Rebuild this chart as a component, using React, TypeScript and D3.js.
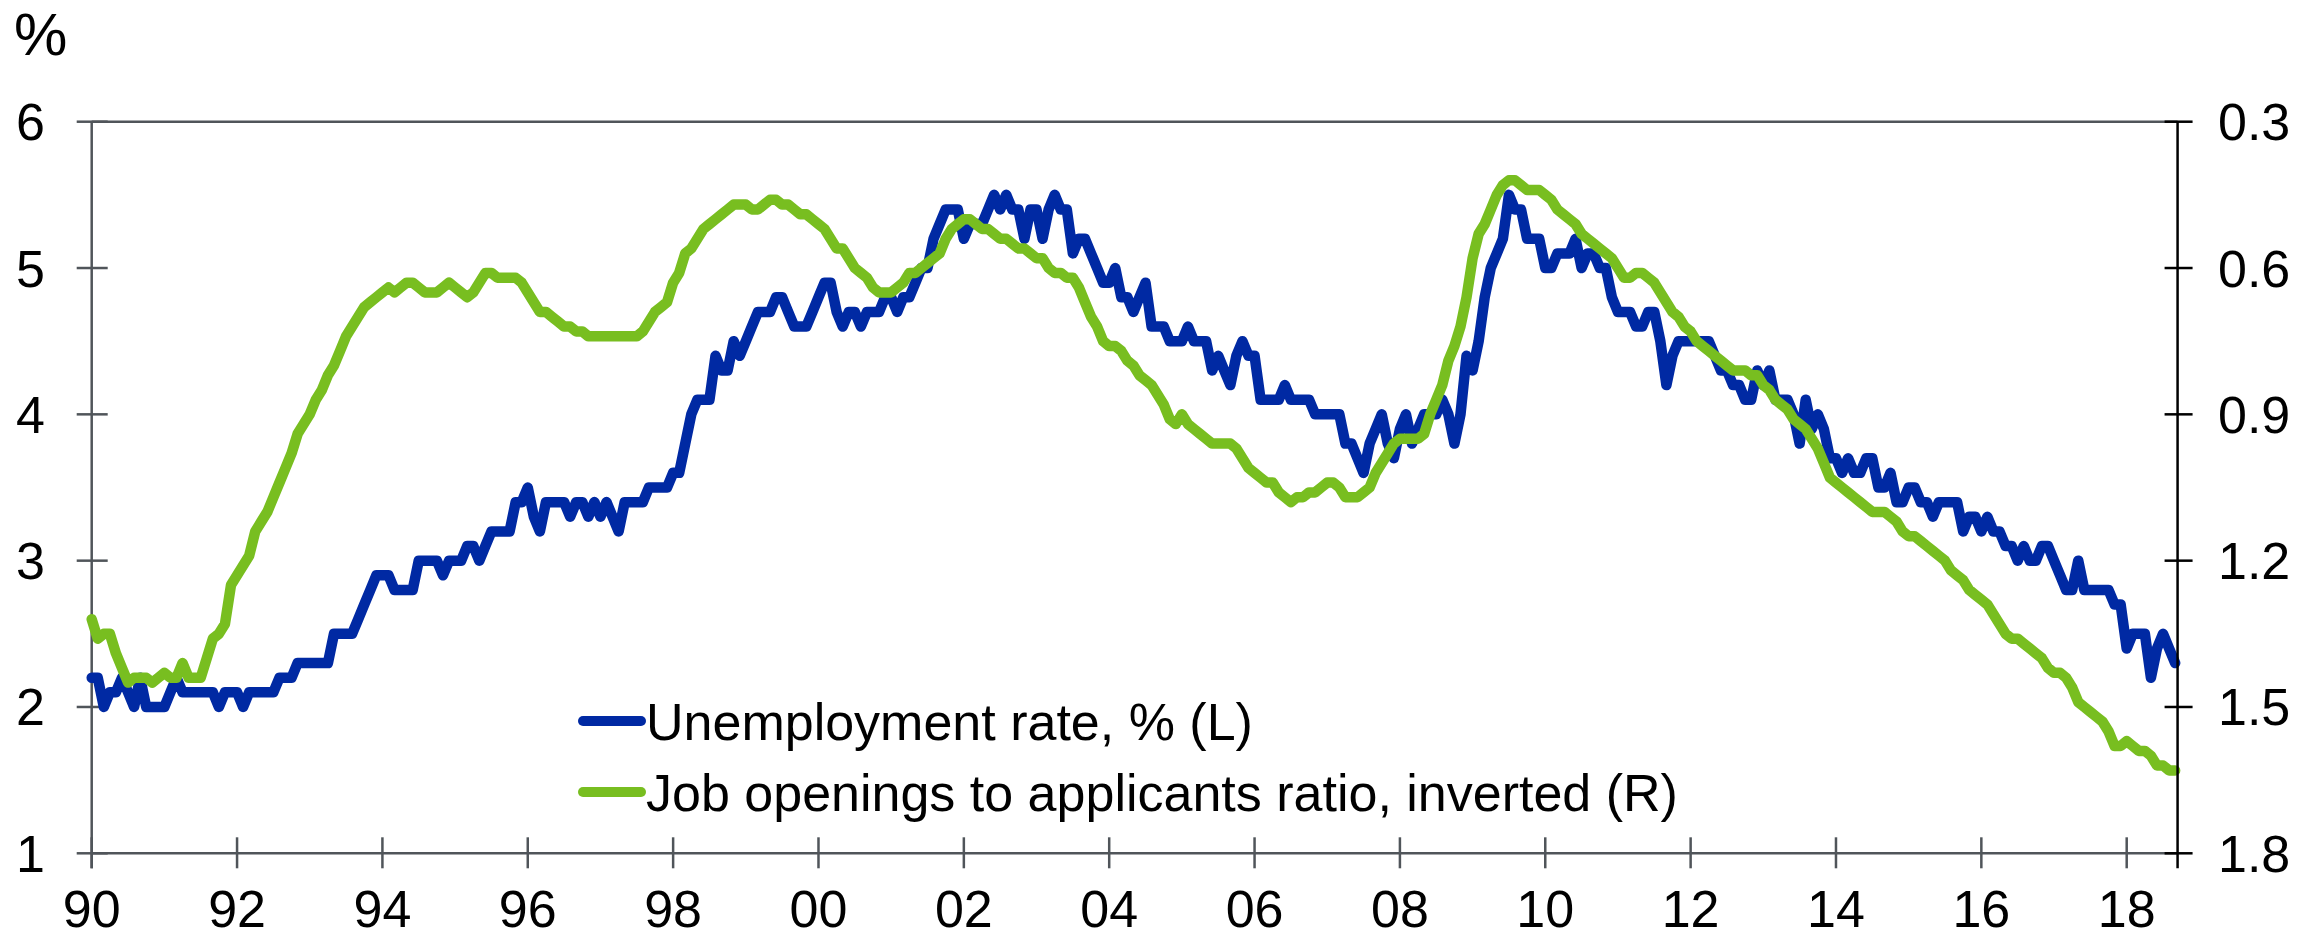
import React from 'react';
import * as d3 from 'd3';

// monthly data, first value = Jan 1990, last = Sep 2018
const startYear = 1990;

// unemployment rate, % (left axis)
const unemployment = [
  2.2, 2.2, 2.0, 2.1, 2.1, 2.2, 2.1, 2.0, 2.2, 2.0, 2.0, 2.0, // 1990
  2.0, 2.1, 2.2, 2.1, 2.1, 2.1, 2.1, 2.1, 2.1, 2.0, 2.1, 2.1, // 1991
  2.1, 2.0, 2.1, 2.1, 2.1, 2.1, 2.1, 2.2, 2.2, 2.2, 2.3, 2.3, // 1992
  2.3, 2.3, 2.3, 2.3, 2.5, 2.5, 2.5, 2.5, 2.6, 2.7, 2.8, 2.9, // 1993
  2.9, 2.9, 2.8, 2.8, 2.8, 2.8, 3.0, 3.0, 3.0, 3.0, 2.9, 3.0, // 1994
  3.0, 3.0, 3.1, 3.1, 3.0, 3.1, 3.2, 3.2, 3.2, 3.2, 3.4, 3.4, // 1995
  3.5, 3.3, 3.2, 3.4, 3.4, 3.4, 3.4, 3.3, 3.4, 3.4, 3.3, 3.4, // 1996
  3.3, 3.4, 3.3, 3.2, 3.4, 3.4, 3.4, 3.4, 3.5, 3.5, 3.5, 3.5, // 1997
  3.6, 3.6, 3.8, 4.0, 4.1, 4.1, 4.1, 4.4, 4.3, 4.3, 4.5, 4.4, // 1998
  4.5, 4.6, 4.7, 4.7, 4.7, 4.8, 4.8, 4.7, 4.6, 4.6, 4.6, 4.7, // 1999
  4.8, 4.9, 4.9, 4.7, 4.6, 4.7, 4.7, 4.6, 4.7, 4.7, 4.7, 4.8, // 2000
  4.8, 4.7, 4.8, 4.8, 4.9, 5.0, 5.0, 5.2, 5.3, 5.4, 5.4, 5.4, // 2001
  5.2, 5.3, 5.3, 5.3, 5.4, 5.5, 5.4, 5.5, 5.4, 5.4, 5.2, 5.4, // 2002
  5.4, 5.2, 5.4, 5.5, 5.4, 5.4, 5.1, 5.2, 5.2, 5.1, 5.0, 4.9, // 2003
  4.9, 5.0, 4.8, 4.8, 4.7, 4.8, 4.9, 4.6, 4.6, 4.6, 4.5, 4.5, // 2004
  4.5, 4.6, 4.5, 4.5, 4.5, 4.3, 4.4, 4.3, 4.2, 4.4, 4.5, 4.4, // 2005
  4.4, 4.1, 4.1, 4.1, 4.1, 4.2, 4.1, 4.1, 4.1, 4.1, 4.0, 4.0, // 2006
  4.0, 4.0, 4.0, 3.8, 3.8, 3.7, 3.6, 3.8, 3.9, 4.0, 3.8, 3.7, // 2007
  3.9, 4.0, 3.8, 3.9, 4.0, 4.0, 4.0, 4.1, 4.0, 3.8, 4.0, 4.4, // 2008
  4.3, 4.5, 4.8, 5.0, 5.1, 5.2, 5.5, 5.4, 5.4, 5.2, 5.2, 5.2, // 2009
  5.0, 5.0, 5.1, 5.1, 5.1, 5.2, 5.0, 5.1, 5.1, 5.0, 5.0, 4.8, // 2010
  4.7, 4.7, 4.7, 4.6, 4.6, 4.7, 4.7, 4.5, 4.2, 4.4, 4.5, 4.5, // 2011
  4.5, 4.5, 4.5, 4.5, 4.4, 4.3, 4.3, 4.2, 4.2, 4.1, 4.1, 4.3, // 2012
  4.2, 4.3, 4.1, 4.1, 4.1, 4.0, 3.8, 4.1, 3.9, 4.0, 3.9, 3.7, // 2013
  3.7, 3.6, 3.7, 3.6, 3.6, 3.7, 3.7, 3.5, 3.5, 3.6, 3.4, 3.4, // 2014
  3.5, 3.5, 3.4, 3.4, 3.3, 3.4, 3.4, 3.4, 3.4, 3.2, 3.3, 3.3, // 2015
  3.2, 3.3, 3.2, 3.2, 3.1, 3.1, 3.0, 3.1, 3.0, 3.0, 3.1, 3.1, // 2016
  3.0, 2.9, 2.8, 2.8, 3.0, 2.8, 2.8, 2.8, 2.8, 2.8, 2.7, 2.7, // 2017
  2.4, 2.5, 2.5, 2.5, 2.2, 2.4, 2.5, 2.4, 2.3, // 2018
];

// job openings to applicants ratio (right axis, inverted)
const jobRatio = [
  1.32, 1.36, 1.35, 1.35, 1.39, 1.42, 1.45, 1.44, 1.44, 1.44, 1.45, 1.44, // 1990
  1.43, 1.44, 1.44, 1.41, 1.44, 1.44, 1.44, 1.40, 1.36, 1.35, 1.33, 1.25, // 1991
  1.23, 1.21, 1.19, 1.14, 1.12, 1.10, 1.07, 1.04, 1.01, 0.98, 0.94, 0.92, // 1992
  0.90, 0.87, 0.85, 0.82, 0.80, 0.77, 0.74, 0.72, 0.70, 0.68, 0.67, 0.66, // 1993
  0.65, 0.64, 0.65, 0.64, 0.63, 0.63, 0.64, 0.65, 0.65, 0.65, 0.64, 0.63, // 1994
  0.64, 0.65, 0.66, 0.65, 0.63, 0.61, 0.61, 0.62, 0.62, 0.62, 0.62, 0.63, // 1995
  0.65, 0.67, 0.69, 0.69, 0.70, 0.71, 0.72, 0.72, 0.73, 0.73, 0.74, 0.74, // 1996
  0.74, 0.74, 0.74, 0.74, 0.74, 0.74, 0.74, 0.73, 0.71, 0.69, 0.68, 0.67, // 1997
  0.63, 0.61, 0.57, 0.56, 0.54, 0.52, 0.51, 0.50, 0.49, 0.48, 0.47, 0.47, // 1998
  0.47, 0.48, 0.48, 0.47, 0.46, 0.46, 0.47, 0.47, 0.48, 0.49, 0.49, 0.50, // 1999
  0.51, 0.52, 0.54, 0.56, 0.56, 0.58, 0.60, 0.61, 0.62, 0.64, 0.65, 0.65, // 2000
  0.65, 0.64, 0.63, 0.61, 0.61, 0.60, 0.59, 0.58, 0.57, 0.54, 0.52, 0.51, // 2001
  0.50, 0.50, 0.51, 0.52, 0.52, 0.53, 0.54, 0.54, 0.55, 0.56, 0.56, 0.57, // 2002
  0.58, 0.58, 0.60, 0.61, 0.61, 0.62, 0.62, 0.64, 0.67, 0.70, 0.72, 0.75, // 2003
  0.76, 0.76, 0.77, 0.79, 0.80, 0.82, 0.83, 0.84, 0.86, 0.88, 0.91, 0.92, // 2004
  0.90, 0.92, 0.93, 0.94, 0.95, 0.96, 0.96, 0.96, 0.96, 0.97, 0.99, 1.01, // 2005
  1.02, 1.03, 1.04, 1.04, 1.06, 1.07, 1.08, 1.07, 1.07, 1.06, 1.06, 1.05, // 2006
  1.04, 1.04, 1.05, 1.07, 1.07, 1.07, 1.06, 1.05, 1.02, 1.00, 0.98, 0.96, // 2007
  0.95, 0.95, 0.95, 0.95, 0.94, 0.90, 0.87, 0.84, 0.79, 0.76, 0.72, 0.66, // 2008
  0.58, 0.53, 0.51, 0.48, 0.45, 0.43, 0.42, 0.42, 0.43, 0.44, 0.44, 0.44, // 2009
  0.45, 0.46, 0.48, 0.49, 0.50, 0.51, 0.53, 0.54, 0.55, 0.56, 0.57, 0.58, // 2010
  0.60, 0.62, 0.62, 0.61, 0.61, 0.62, 0.63, 0.65, 0.67, 0.69, 0.70, 0.72, // 2011
  0.73, 0.75, 0.76, 0.77, 0.78, 0.79, 0.80, 0.81, 0.81, 0.81, 0.82, 0.82, // 2012
  0.84, 0.85, 0.87, 0.88, 0.89, 0.91, 0.92, 0.93, 0.95, 0.97, 1.00, 1.03, // 2013
  1.04, 1.05, 1.06, 1.07, 1.08, 1.09, 1.10, 1.10, 1.10, 1.11, 1.12, 1.14, // 2014
  1.15, 1.15, 1.16, 1.17, 1.18, 1.19, 1.20, 1.22, 1.23, 1.24, 1.26, 1.27, // 2015
  1.28, 1.29, 1.31, 1.33, 1.35, 1.36, 1.36, 1.37, 1.38, 1.39, 1.40, 1.42, // 2016
  1.43, 1.43, 1.44, 1.46, 1.49, 1.50, 1.51, 1.52, 1.53, 1.55, 1.58, 1.58, // 2017
  1.57, 1.58, 1.59, 1.59, 1.60, 1.62, 1.62, 1.63, 1.63, // 2018
];

const yearTicks = d3.range(1990, 2019, 2);
const leftTicks = [1, 2, 3, 4, 5, 6];
const rightTicks = [0.3, 0.6, 0.9, 1.2, 1.5, 1.8];
const seriesNames = ['Unemployment rate, % (L)', 'Job openings to applicants ratio, inverted (R)'];
const seriesColors = ['#0029a3', '#78be20'];

const W = 2315;
const H = 939;
const FONT = '"Liberation Sans", Arial, sans-serif';
const AXIS_GREY = '#50555a';

export default function App() {
  const x = d3.scaleLinear().domain([1990, 2018]).range([91.7, 2126.7]);
  const yL = d3.scaleLinear().domain([1, 6]).range([853.3, 121.7]);
  const yR = d3.scaleLinear().domain([1.8, 0.3]).range([853.3, 121.7]);

  const x0 = x(1990);
  const x1 = x(2018.7); // right axis
  const yTop = yL(6);
  const yBot = yL(1);

  const t = (i: number) => x(startYear + i / 12);
  const lineL = d3.line<number>().x((d, i) => t(i)).y(d => yL(d));
  const lineR = d3.line<number>().x((d, i) => t(i)).y(d => yR(d));

  return (
    <svg width={W} height={H} style={{ position: 'absolute', left: 0, top: 0, display: 'block', background: '#fff' }}
      fontFamily={FONT}>
      {/* % label */}
      <text x={14} y={55} fontSize={60} fill="#000">%</text>

      {/* frame */}
      <line x1={x0} x2={x1} y1={yTop} y2={yTop} stroke={AXIS_GREY} strokeWidth={2.5} />
      <line x1={x0} x2={x1} y1={yBot} y2={yBot} stroke={AXIS_GREY} strokeWidth={2.5} />
      <line x1={x0} x2={x0} y1={yTop} y2={yBot + 15} stroke={AXIS_GREY} strokeWidth={2.5} />

      {/* left ticks */}
      {leftTicks.map(v => (
        <g key={'l' + v}>
          <line x1={x0 - 15} x2={x0 + 16} y1={yL(v)} y2={yL(v)} stroke={AXIS_GREY} strokeWidth={2.5} />
          <text x={45} y={yL(v) + 18.5} fontSize={52} textAnchor="end" fill="#000">{v}</text>
        </g>
      ))}

      {/* bottom ticks */}
      {yearTicks.map(yr => (
        <g key={'x' + yr}>
          <line x1={x(yr)} x2={x(yr)} y1={yBot - 16} y2={yBot + 15} stroke={AXIS_GREY} strokeWidth={2.5} />
          <text x={x(yr)} y={927} fontSize={52} textAnchor="middle" fill="#000">
            {String(yr % 100).padStart(2, '0')}
          </text>
        </g>
      ))}

      {/* series */}
      <path d={lineL(unemployment) ?? ''} fill="none" stroke={seriesColors[0]} strokeWidth={10.5}
        strokeLinejoin="round" strokeLinecap="round" />
      <path d={lineR(jobRatio) ?? ''} fill="none" stroke={seriesColors[1]} strokeWidth={10.5}
        strokeLinejoin="round" strokeLinecap="round" />

      {/* right axis */}
      <line x1={x1} x2={x1} y1={yTop} y2={yBot + 15} stroke="#000" strokeWidth={2.5} />
      {rightTicks.map(v => (
        <g key={'r' + v}>
          <line x1={x1 - 13} x2={x1 + 15} y1={yR(v)} y2={yR(v)} stroke="#000" strokeWidth={2.5} />
          <text x={2218} y={yR(v) + 18.5} fontSize={52} fill="#000">{v.toFixed(1)}</text>
        </g>
      ))}

      {/* legend */}
      {seriesNames.map((name, i) => {
        const ly = 721 + i * 71;
        return (
          <g key={name}>
            <line x1={583} x2={641} y1={ly} y2={ly} stroke={seriesColors[i]} strokeWidth={10} strokeLinecap="round" />
            <text x={646} y={ly + 19} fontSize={52} fill="#000">{name}</text>
          </g>
        );
      })}
    </svg>
  );
}
